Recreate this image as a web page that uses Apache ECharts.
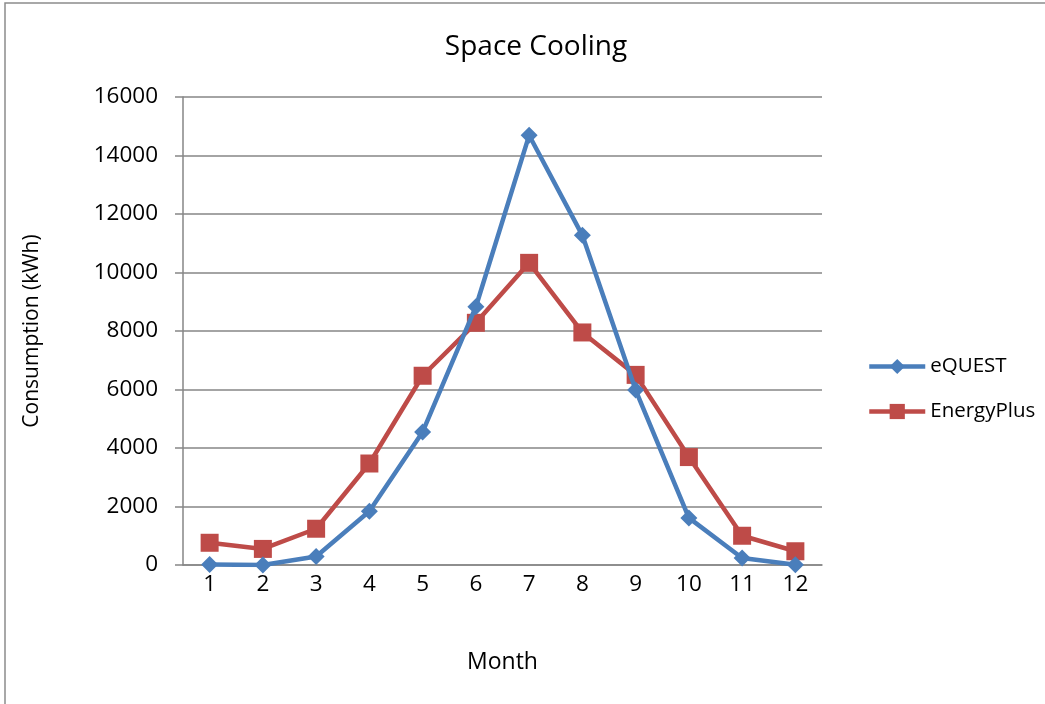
<!DOCTYPE html>
<html><head><meta charset="utf-8">
<script src="https://cdn.jsdelivr.net/npm/echarts@6/dist/echarts.min.js"></script>
<style>html,body{margin:0;padding:0;background:#fff}#c{width:1045px;height:704px}</style>
</head><body><div id="c"></div>
<script>
const months = ['1','2','3','4','5','6','7','8','9','10','11','12'];
const eQUEST = [15, 0, 290, 1840, 4550, 8830, 14690, 11270, 5980, 1610, 240, 10];
const energyPlus = [760, 550, 1240, 3470, 6470, 8280, 10330, 7950, 6500, 3690, 1000, 470];
const yTicks = [0, 2000, 4000, 6000, 8000, 10000, 12000, 14000, 16000];

const font = "'Open Sans', 'Liberation Sans', sans-serif";
const chart = echarts.init(document.getElementById('c'));
chart.setOption({
  animation: false,
  backgroundColor: '#fff',
  textStyle: {fontFamily: font},
  graphic: [{type:'rect', shape:{x:5, y:3, width:1080, height:760}, style:{fill:'none', stroke:'#8c8c8c', lineWidth:1.5}, silent:true}],
  title: {text: 'Space Cooling', left: 531, top: 28, textAlign: 'center',
    textStyle: {fontFamily: font, fontWeight: 'normal', fontSize: 28, color: '#000'}},
  legend: {
    orient: 'vertical', left: 862, top: 351, itemGap: 24, itemWidth: 56, itemHeight: 19,
    textStyle: {fontFamily: font, fontSize: 20.5, color: '#000'},
    lineStyle: {width: 4.5},
    data: ['eQUEST', 'EnergyPlus']
  },
  grid: {left: 183, right: 223, top: 97, bottom: 139},
  xAxis: {
    type: 'category', data: months, boundaryGap: true,
    name: 'Month', nameLocation: 'middle', nameGap: 86,
    nameTextStyle: {fontFamily: font, fontSize: 23, color: '#000'},
    axisLine: {lineStyle: {color: '#868686', width: 1.5}},
    axisTick: {show: false},
    axisLabel: {fontFamily: font, fontSize: 22.5, color: '#000', margin: 8}
  },
  yAxis: {
    type: 'value', min: 0, max: 16000, interval: 2000,
    name: 'Consumption (kWh)', nameLocation: 'middle', nameGap: 140,
    nameTextStyle: {fontFamily: font, fontSize: 21, color: '#000'},
    axisLine: {show: true, lineStyle: {color: '#868686', width: 1.5}},
    axisTick: {show: true, length: 8, lineStyle: {color: '#868686', width: 1.5}},
    axisLabel: {fontFamily: font, fontSize: 22.5, color: '#000', margin: 25,
      formatter: v => yTicks.includes(v) ? String(v) : ''},
    splitLine: {lineStyle: {color: '#868686', width: 1.5}}
  },
  series: [
    {name: 'eQUEST', type: 'line', data: eQUEST, symbol: 'diamond', symbolSize: 17,
      itemStyle: {color: '#4a7ebb'}, lineStyle: {color: '#4a7ebb', width: 4.5}, z: 3},
    {name: 'EnergyPlus', type: 'line', data: energyPlus, symbol: 'rect', symbolSize: 18,
      itemStyle: {color: '#be4b48'}, lineStyle: {color: '#be4b48', width: 4.5}, z: 2}
  ]
});
</script></body></html>
